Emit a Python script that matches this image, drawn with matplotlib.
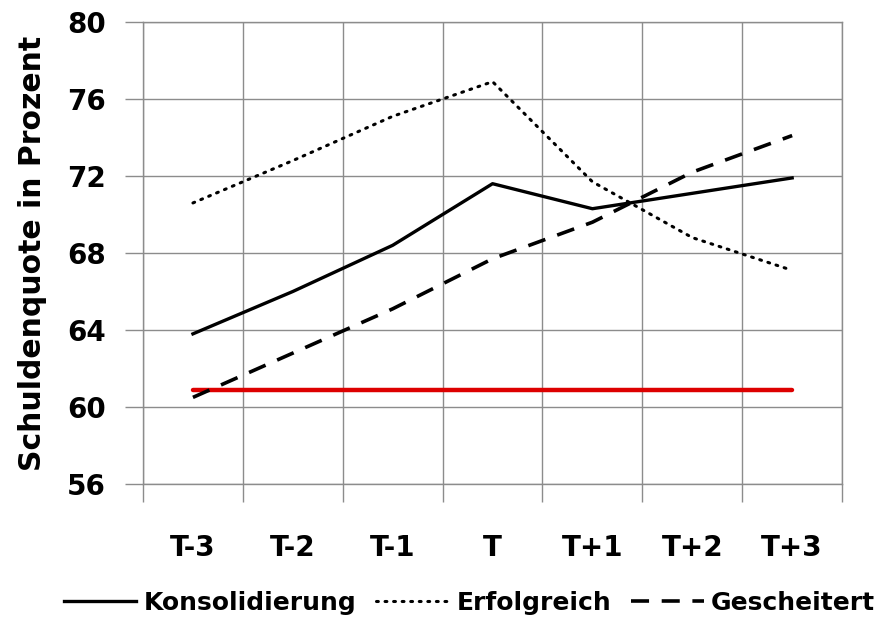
import numpy as np
import matplotlib
matplotlib.use("Agg")
from matplotlib import pyplot as plt

# Daten
perioden = ["T-3", "T-2", "T-1", "T", "T+1", "T+2", "T+3"]
konsolidierung = [63.8, 66.0, 68.4, 71.6, 70.3, 71.1, 71.9]
erfolgreich = [70.6, 72.8, 75.1, 76.9, 71.7, 68.8, 67.1]
gescheitert = [60.5, 62.8, 65.1, 67.7, 69.6, 72.2, 74.1]
grenze = [60.9] * 7

plt.rcParams['font.family'] = ['DejaVu Sans']
plt.rcParams['font.weight'] = 'bold'

fig = plt.figure(figsize=(8.79, 6.23), dpi=100)
ax = fig.add_axes([0.1627, 0.2231, 0.7953, 0.7416])

x = np.arange(len(perioden))
ax.plot(x, grenze, color='#dd0000', lw=3.2, solid_capstyle='round', zorder=2)
ax.plot(x, konsolidierung, color='black', lw=2.4, label='Konsolidierung', zorder=3)
ax.plot(x, erfolgreich, color='black', lw=2.2, ls=(0, (0.6, 2.2)),
        dash_capstyle='round', label='Erfolgreich', zorder=3)
ax.plot(x, gescheitert, color='black', lw=2.6, ls=(0, (5, 3.5)), label='Gescheitert', zorder=3)

ax.set_xlim(-0.5, len(perioden) - 0.5)
ax.set_ylim(56, 80)
ax.set_yticks(np.arange(56, 81, 4))
ax.set_xticks(np.arange(-0.5, len(perioden), 1.0))
ax.set_xticklabels([])
ax.set_xticks(x, minor=True)
ax.set_xticklabels(perioden, minor=True)

grau = '#8c8c8c'
ax.grid(True, which='major', color=grau, lw=1.0)
for s in ax.spines.values():
    s.set_color(grau)
    s.set_linewidth(1.0)
ax.tick_params(axis='both', which='major', length=13, width=1.0, color=grau,
               labelsize=20, pad=8)
ax.tick_params(axis='y', which='major', pad=14)
ax.tick_params(axis='x', which='minor', length=0, labelsize=20, pad=36)
ax.set_ylabel('Schuldenquote in Prozent', fontsize=21.5, fontweight='bold', labelpad=14)

fig.legend(loc='center', bbox_to_anchor=(0.534, 0.032), ncol=3, frameon=False,
           fontsize=18, handlelength=2.9, columnspacing=0.8, handletextpad=0.3)

fig.savefig('out.png', dpi=100)
